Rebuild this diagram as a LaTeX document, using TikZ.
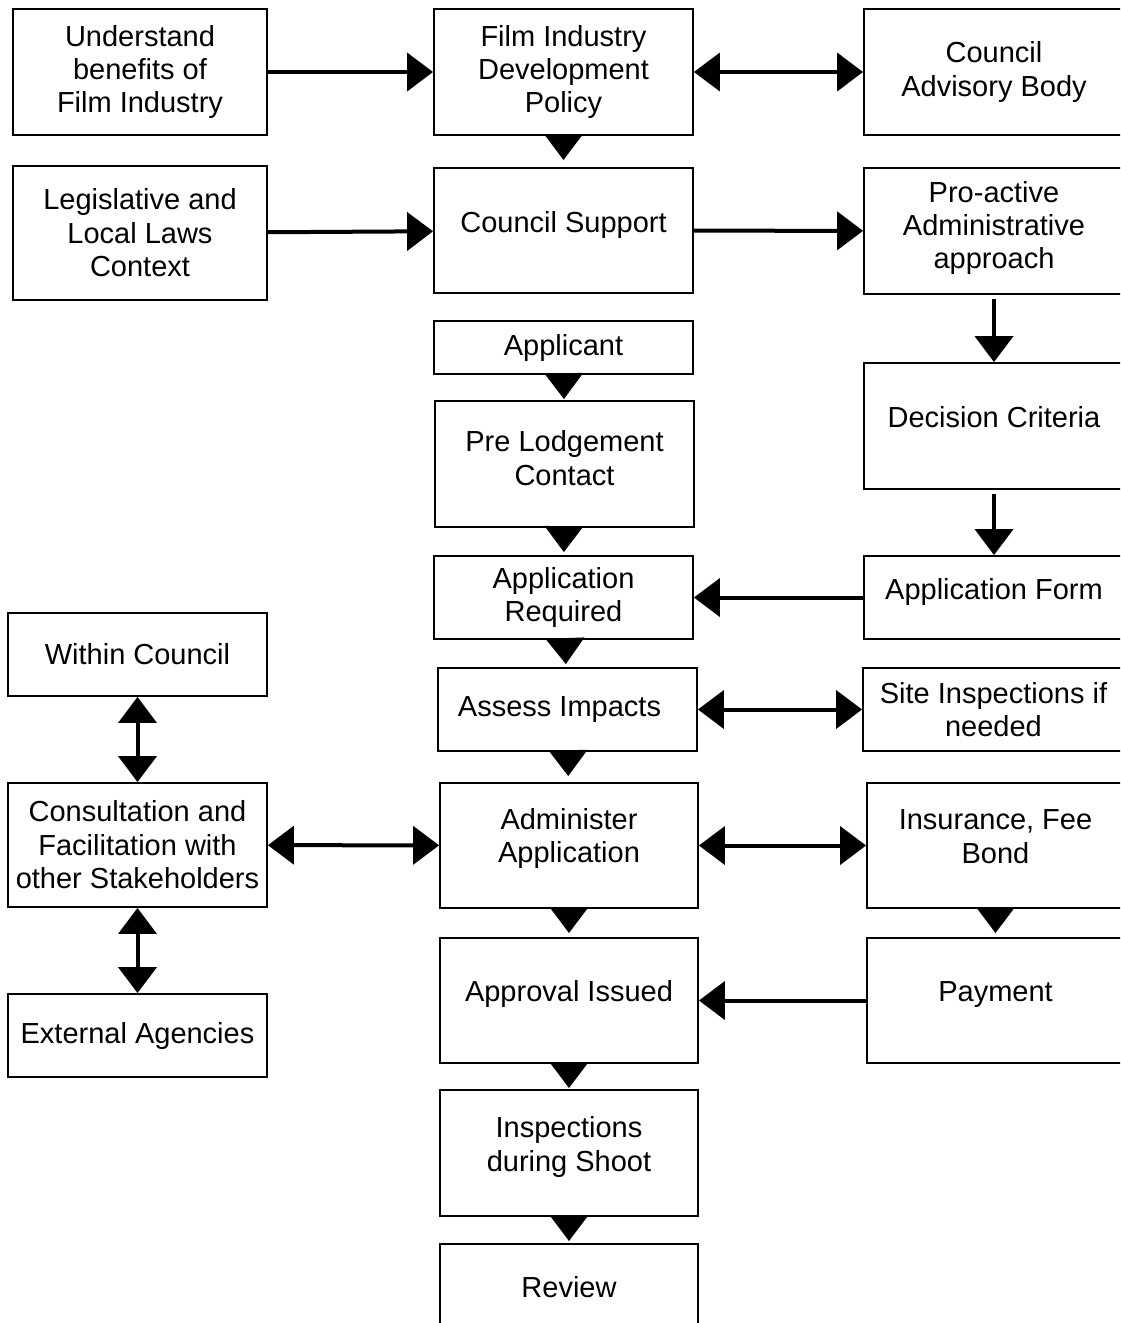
\documentclass[tikz,border=0pt]{standalone}
\usepackage{fontspec}
\setmainfont{Liberation Sans}
\usetikzlibrary{arrows.meta}

\tikzset{
    box/.style={draw, rectangle, line width=1.8pt, align=center, inner sep=2pt,
        font=\fontsize{29}{33.4}\selectfont},
    lift/.style={text depth=#1},
    arr/.style={line width=4pt, -{Triangle[width=38pt,length=26pt]}},
    dbl/.style={line width=4pt, {Triangle[width=38pt,length=26pt]}-{Triangle[width=38pt,length=26pt]}},
}

\begin{document}
\begin{tikzpicture}[x=1pt, y=-1pt]
    \useasboundingbox (0,0) rectangle (1120,1323);
    \clip (0,0) rectangle (1120,1323);

    % left column
    \node[box, minimum width=254pt, minimum height=126pt] (understand) at (140,72) {Understand\\benefits of\\Film Industry};
    \node[box, minimum width=254pt, minimum height=134pt] (laws) at (140,233) {Legislative and\\Local Laws\\Context};
    \node[box, minimum width=259pt, minimum height=83pt] (within) at (137.5,654.5) {Within Council};
    \node[box, minimum width=259pt, minimum height=124pt] (consult) at (137.5,845) {Consultation and\\Facilitation with\\other Stakeholders};
    \node[box, minimum width=259pt, minimum height=83pt] (external) at (137.5,1035.5) {External Agencies};

    % middle column
    \node[box, minimum width=259pt, minimum height=126pt] (policy) at (563.5,72) {Film Industry\\Development\\Policy};
    \node[box, lift=18pt, minimum width=259pt, minimum height=125pt] (support) at (563.5,230.5) {Council Support};
    \node[box, minimum width=259pt, minimum height=53pt] (applicant) at (563.5,347.5) {Applicant};
    \node[box, lift=12pt, minimum width=259pt, minimum height=126pt] (prelodge) at (564.5,464) {Pre Lodgement\\Contact};
    \node[box, minimum width=259pt, minimum height=83pt] (required) at (563.5,597.5) {Application\\Required};
    \node[box, minimum width=259pt, minimum height=83pt] (assess) at (567.5,709.5) {Assess Impacts\hspace{16pt}};
    \node[box, lift=20pt, minimum width=258pt, minimum height=125pt] (administer) at (569,845.5) {Administer\\Application};
    \node[box, lift=20pt, minimum width=258pt, minimum height=125pt] (approval) at (569,1000.5) {Approval Issued};
    \node[box, lift=18pt, minimum width=258pt, minimum height=126pt] (shoot) at (569,1153) {Inspections\\during Shoot};
    \node[box, minimum width=258pt, minimum height=86pt] (review) at (569,1287) {Review};

    % right column
    \node[box, minimum width=260pt, minimum height=126pt] (advisory) at (994,72) {Council\\Advisory Body};
    \node[box, lift=12pt, minimum width=260pt, minimum height=126pt] (proactive) at (994,231) {Pro-active\\Administrative\\approach};
    \node[box, lift=18pt, minimum width=260pt, minimum height=126pt] (criteria) at (994,426) {Decision Criteria};
    \node[box, lift=18pt, minimum width=260pt, minimum height=83pt] (form) at (994,597.5) {Application Form};
    \node[box, minimum width=261pt, minimum height=83pt] (site) at (993.5,709.5) {Site Inspections if\\needed};
    \node[box, lift=18pt, minimum width=257pt, minimum height=125pt] (insurance) at (995.5,845.5) {Insurance, Fee\\Bond};
    \node[box, lift=18pt, minimum width=257pt, minimum height=125pt] (payment) at (995.5,1000.5) {Payment};

    \draw[arr] (understand) -- (policy);
    \draw[dbl] (policy) -- (advisory);
    \draw[arr, shorten >=7pt] (policy) -- (support);
    \draw[arr] (laws) -- (support);
    \draw[arr] (support) -- (proactive);
    \draw[arr, shorten <=4pt] (proactive) -- (criteria);
    \draw[arr, shorten <=4pt] (criteria) -- (form);
    \draw[arr] (form) -- (required);

    \draw[arr, shorten >=1pt] (applicant) -- (prelodge);
    \draw[arr, shorten >=3pt] (prelodge) -- (required);
    \draw[arr, shorten >=3pt] (required) -- (assess);
    \draw[arr, shorten >=6pt] (assess) -- (administer);
    \draw[arr, shorten >=4pt] (administer) -- (approval);
    \draw[arr, shorten >=1pt] (approval) -- (shoot);
    \draw[arr, shorten >=2pt] (shoot) -- (review);

    \draw[dbl] (assess) -- (site);
    \draw[dbl] (administer) -- (insurance);
    \draw[arr, shorten >=4pt] (insurance) -- (payment);
    \draw[arr] (payment) -- (approval);

    \draw[dbl] (within) -- (consult);
    \draw[dbl] (consult) -- (external);
    \draw[dbl] (consult) -- (administer);
\end{tikzpicture}
\end{document}
